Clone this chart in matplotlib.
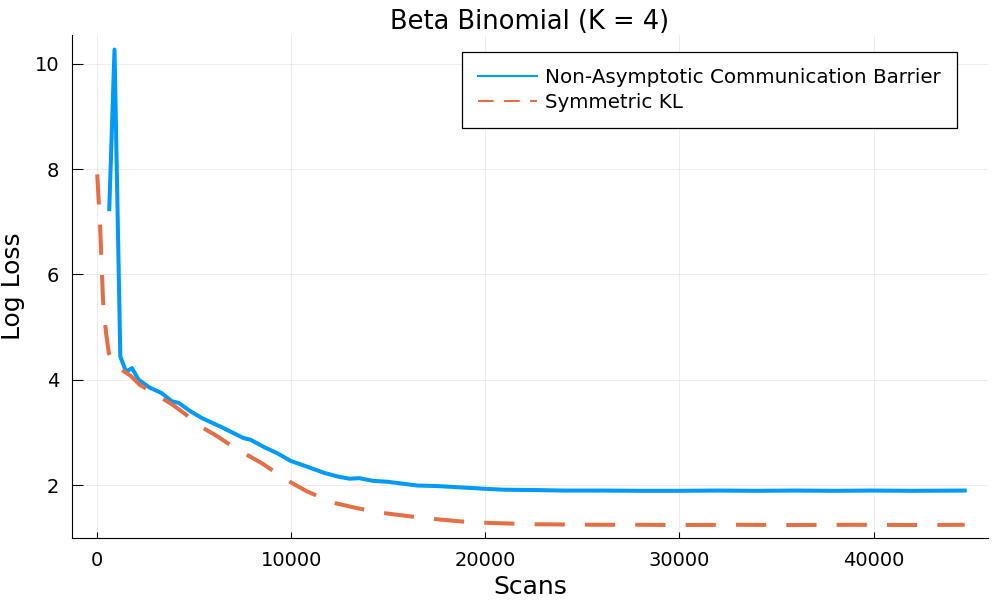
import matplotlib.pyplot as plt

# Non-Asymptotic Communication Barrier
scans_nacb = [620, 890, 1190, 1490, 1790, 2130, 2700, 3300, 3850, 4200, 4800, 5400,
              6400, 7000, 7550, 7900, 8600, 9300, 9950, 10800, 11700, 12400, 13000,
              13500, 14200, 15000, 16500, 17500, 18500, 19900, 21000, 22500, 24000,
              26000, 28000, 30000, 32000, 34000, 36000, 38000, 40000, 42000, 44700]
loss_nacb = [7.24, 10.27, 4.44, 4.15, 4.22, 4.00, 3.85, 3.75, 3.59, 3.56, 3.40, 3.27,
             3.10, 2.99, 2.89, 2.86, 2.72, 2.60, 2.46, 2.35, 2.23, 2.16, 2.12,
             2.13, 2.08, 2.06, 1.99, 1.98, 1.96, 1.93, 1.91, 1.905, 1.895,
             1.895, 1.89, 1.89, 1.895, 1.89, 1.895, 1.89, 1.895, 1.89, 1.895]

# Symmetric KL
scans_skl = [0, 150, 300, 450, 600, 850, 1200, 1700, 2200, 3000, 3900, 4600, 5100,
             6170, 6860, 7400, 8500, 9790, 10800, 12200, 13400, 14700, 16000, 17500,
             18700, 20200, 22500, 25700, 28000, 30000, 33000, 36000, 39000, 42000, 44700]
loss_skl = [7.9, 6.9, 5.5, 4.9, 4.5, 4.32, 4.2, 4.08, 3.90, 3.73, 3.52, 3.33, 3.16,
            2.93, 2.76, 2.64, 2.41, 2.09, 1.88, 1.66, 1.56, 1.47, 1.41, 1.35,
            1.31, 1.28, 1.255, 1.245, 1.245, 1.24, 1.245, 1.24, 1.245, 1.24, 1.245]

fig = plt.figure(figsize=(10, 6), dpi=100)
ax = fig.add_axes([0.072, 0.103, 0.916, 0.839])

ax.plot(scans_nacb, loss_nacb, color='#009AFA', lw=2.9,
        label='Non-Asymptotic Communication Barrier')
ax.plot(scans_skl, loss_skl, color='#E26F46', lw=2.9, dashes=(7.5, 5),
        label='Symmetric KL')

ax.set_xlim(-1300, 45900)
ax.set_ylim(0.99, 10.55)
ax.set_xticks([0, 10000, 20000, 30000, 40000])
ax.set_yticks([2, 4, 6, 8, 10])
ax.grid(True, color='black', alpha=0.07, lw=0.7)
ax.tick_params(direction='in', labelsize=14)
ax.tick_params(axis='x', length=4.5, pad=9)
ax.tick_params(axis='y', length=8, pad=9)
for side in ['top', 'right']:
    ax.spines[side].set_visible(False)

ax.set_title('Beta Binomial (K = 4)', fontsize=18.5, pad=3)
ax.set_xlabel('Scans', fontsize=18, labelpad=4)
ax.set_ylabel('Log Loss', fontsize=18, labelpad=7)

leg = ax.legend(loc='upper right', bbox_to_anchor=(0.966, 0.966), borderaxespad=0,
                fontsize=14.3, fancybox=False, framealpha=1, edgecolor='black',
                handlelength=3.0, handletextpad=0.4, borderpad=0.8, labelspacing=0.3)
leg.get_frame().set_linewidth(0.9)
for line in leg.get_lines():
    line.set_linewidth(1.5)

fig.savefig('out.png')
